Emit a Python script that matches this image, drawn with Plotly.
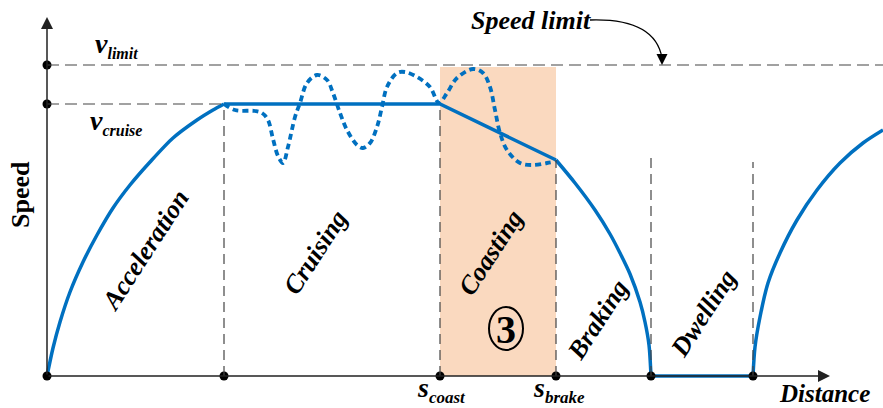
import plotly.graph_objects as go

# ---- data (distance, speed) read from the schematic ----
v_limit = 311
v_cruise = 272
s_accel_end = 177
s_coast = 393
s_brake = 509
s_stop = 604
s_depart = 706

accel_d = [0, 6, 13, 23, 36, 50, 66, 83, 103, 126, 150, 166, 177]
accel_v = [0, 28, 54, 84, 114, 141, 168, 191, 214, 238, 256, 266, 272]

cruise_coast_d = [177, 393, 509]
cruise_coast_v = [272, 272, 216]

brake_d = [509, 528, 548, 563, 573, 583, 593, 598, 602, 604]
brake_v = [216, 193, 166, 142, 123, 102, 74, 54, 31, 0]

dwell_d = [604, 706]
dwell_v = [0, 0]

accel2_d = [706, 708, 713, 721, 733, 750, 770, 793, 816, 836]
accel2_v = [0, 29, 59, 93, 123, 156, 186, 213, 233, 246]

dotted_d = [177, 188, 208, 215, 221, 226, 231, 236, 241, 248, 253, 260, 270, 280, 286, 293,
            300, 310, 316, 323, 330, 335, 340, 350, 358, 370, 383, 392, 400, 410, 426, 436,
            443, 448, 453, 460, 473, 486, 500, 506]
dotted_v = [272, 266, 265, 263, 256, 237, 220, 213, 229, 259, 273, 293, 301, 296, 283, 263,
            246, 231, 228, 233, 249, 269, 289, 303, 304, 299, 289, 273, 283, 298, 307, 303,
            289, 266, 243, 226, 213, 211, 213, 214]

marker_d = [0, 0, 0, s_accel_end, s_coast, s_brake, s_stop, s_depart]
marker_v = [v_limit, v_cruise, 0, 0, 0, 0, 0, 0]

phase_labels = ["Acceleration", "Cruising", "Coasting", "Braking", "Dwelling"]
phase_d = [98, 268, 443, 550, 656]
phase_v = [126, 124, 123, 56, 63]

BLUE = "#0070C0"
FONT = "Liberation Serif"

fig = go.Figure()

# shaded coasting region
fig.add_shape(type="rect", x0=s_coast, x1=s_brake, y0=0, y1=v_limit - 2,
              fillcolor="#FAD9BF", line=dict(width=0), layer="below")

dash_h = dict(color="#444444", width=1.2, dash="12px,6px")
dash_v = dict(color="#444444", width=1.2, dash="10px,6px")
fig.add_shape(type="line", x0=0, x1=836, y0=v_limit, y1=v_limit, line=dash_h)
fig.add_shape(type="line", x0=0, x1=s_accel_end, y0=v_cruise, y1=v_cruise, line=dash_h)
for xd, top in [(s_accel_end, v_cruise), (s_coast, v_cruise), (s_brake, 216),
                (s_stop, 219), (s_depart, 214)]:
    fig.add_shape(type="line", x0=xd, x1=xd, y0=0, y1=top, line=dash_v)

# speed profile
line_main = dict(color=BLUE, width=3.5)
spline = dict(color=BLUE, width=3.5, shape="spline", smoothing=0.8)
fig.add_trace(go.Scatter(x=accel_d, y=accel_v, mode="lines", line=spline))
fig.add_trace(go.Scatter(x=cruise_coast_d, y=cruise_coast_v, mode="lines", line=line_main))
fig.add_trace(go.Scatter(x=brake_d, y=brake_v, mode="lines", line=spline))
fig.add_trace(go.Scatter(x=dwell_d, y=dwell_v, mode="lines", line=line_main))
fig.add_trace(go.Scatter(x=accel2_d, y=accel2_v, mode="lines", line=spline))
fig.add_trace(go.Scatter(x=dotted_d, y=dotted_v, mode="lines",
                         line=dict(color=BLUE, width=3.8, shape="spline", smoothing=1,
                                   dash="6px,4px")))

fig.add_trace(go.Scatter(x=marker_d, y=marker_v, mode="markers",
                         marker=dict(color="black", size=9), cliponaxis=False))

ann = []
# axes with arrows
ann.append(dict(x=0, y=359, ax=0, ay=0, xref="x", yref="y", axref="x", ayref="y",
                showarrow=True, arrowhead=2, arrowsize=1.6, arrowwidth=1.5,
                arrowcolor="#222222", text=""))
ann.append(dict(x=783, y=0, ax=0, ay=0, xref="x", yref="y", axref="x", ayref="y",
                showarrow=True, arrowhead=2, arrowsize=1.6, arrowwidth=1.5,
                arrowcolor="#222222", text=""))

# curved speed limit arrow
fig.add_shape(type="path", path="M 543,356 Q 608,358 615,318",
              line=dict(color="black", width=1.3), xref="x", yref="y")
ann.append(dict(x=615, y=311, ax=615, ay=320, xref="x", yref="y", axref="x", ayref="y",
                showarrow=True, arrowhead=2, arrowsize=1.7, arrowwidth=1.3,
                arrowcolor="black", text=""))

bi = dict(family=FONT, size=26, color="black")
for t, xd, yv in zip(phase_labels, phase_d, phase_v):
    ann.append(dict(x=xd, y=yv, text=f"<b><i>{t}</i></b>", showarrow=False,
                    textangle=-57, font=bi))

ann.append(dict(x=484, y=356, text="<b><i>Speed limit</i></b>", showarrow=False, font=bi))
ann.append(dict(x=777, y=-17, text="<b><i>Distance</i></b>", showarrow=False,
                font=dict(family=FONT, size=25, color="black"), borderpad=0))
ann.append(dict(x=-27, y=181, text="<b>Speed</b>", showarrow=False, textangle=-90, font=bi))

def sym(main, sub, subsize):
    return (f"<b><i>{main}</i></b><sub><span style='font-size:{subsize}px'>"
            f"<b><i>{sub}</i></b></span></sub>")

big = dict(family=FONT, size=28, color="black")
ann.append(dict(x=69, y=331, text=sym("v", "limit", 16), showarrow=False, font=big))
ann.append(dict(x=69, y=254, text=sym("v", "cruise", 16), showarrow=False, font=big))
ann.append(dict(x=394, y=-13, text=sym("s", "coast", 17), showarrow=False, font=big, borderpad=0))
ann.append(dict(x=512, y=-13, text=sym("s", "brake", 17), showarrow=False, font=big, borderpad=0))

# circled 3
fig.add_shape(type="circle", x0=442, x1=476, y0=26, y1=69,
              line=dict(color="black", width=2))
ann.append(dict(x=459, y=47, text="<b>3</b>", showarrow=False,
                font=dict(family=FONT, size=40, color="black")))

fig.update_layout(
    width=883, height=408,
    margin=dict(l=0, r=0, t=0, b=0),
    paper_bgcolor="white", plot_bgcolor="white",
    showlegend=False,
    annotations=ann,
    xaxis=dict(range=[-47, 836], visible=False, fixedrange=True),
    yaxis=dict(range=[-32, 376], visible=False, fixedrange=True),
)

fig.write_html("out.html", config={"displayModeBar": False},
               post_script="document.body.style.margin='0px';document.body.style.overflow='hidden';")
